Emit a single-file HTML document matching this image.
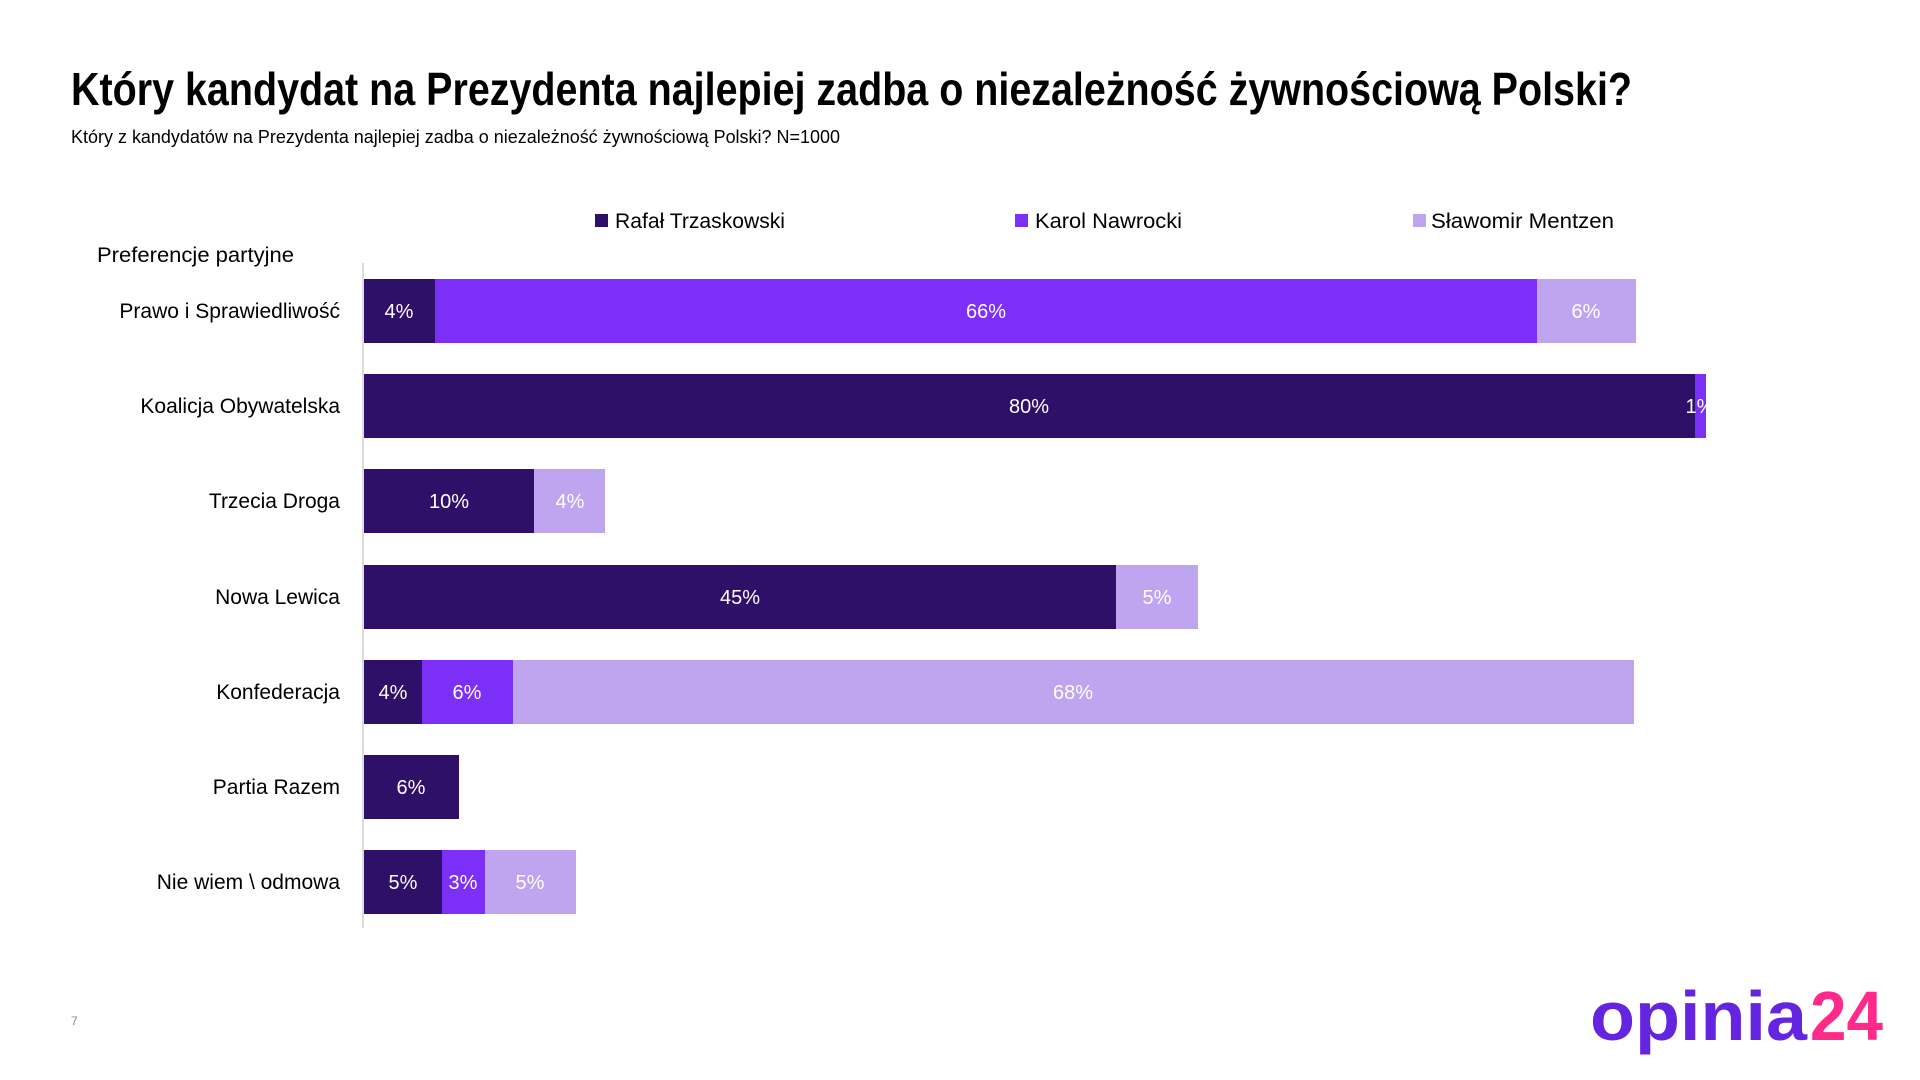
<!DOCTYPE html>
<html><head><meta charset="utf-8"><style>html,body{margin:0;padding:0;background:#fff}svg{display:block}</style></head>
<body>
<svg width="1920" height="1080" viewBox="0 0 1920 1080" xmlns="http://www.w3.org/2000/svg" font-family="'Liberation Sans', sans-serif">
<rect width="1920" height="1080" fill="#fff"/>
<text x="71" y="105" font-size="46" font-weight="bold" fill="#000" textLength="1561" lengthAdjust="spacingAndGlyphs">Który kandydat na Prezydenta najlepiej zadba o niezależność żywnościową Polski?</text>
<text x="71" y="143" font-size="18" fill="#000" textLength="769" lengthAdjust="spacingAndGlyphs">Który z kandydatów na Prezydenta najlepiej zadba o niezależność żywnościową Polski? N=1000</text>
<g font-size="21" fill="#000">
<rect x="595" y="214" width="13" height="13" fill="#2e1069"/>
<text x="615" y="228" textLength="170" lengthAdjust="spacingAndGlyphs">Rafał Trzaskowski</text>
<rect x="1015" y="214" width="13" height="13" fill="#7b2ff7"/>
<text x="1035" y="228" textLength="147" lengthAdjust="spacingAndGlyphs">Karol Nawrocki</text>
<rect x="1413" y="214" width="13" height="13" fill="#bfa5f0"/>
<text x="1431" y="228" textLength="183" lengthAdjust="spacingAndGlyphs">Sławomir Mentzen</text>
<text x="97" y="262" textLength="197" lengthAdjust="spacingAndGlyphs">Preferencje partyjne</text>
</g>
<line x1="363" y1="263" x2="363" y2="928" stroke="#d0d0d0" stroke-width="1.5"/>
<g font-size="21" fill="#000" text-anchor="end">
<text x="340" y="318">Prawo i Sprawiedliwość</text>
<text x="340" y="413">Koalicja Obywatelska</text>
<text x="340" y="508">Trzecia Droga</text>
<text x="340" y="604">Nowa Lewica</text>
<text x="340" y="699">Konfederacja</text>
<text x="340" y="794">Partia Razem</text>
<text x="340" y="889">Nie wiem \ odmowa</text>
</g>
<g>
<rect x="364" y="279" width="71" height="64" fill="#2e1069"/>
<rect x="435" y="279" width="1102" height="64" fill="#7b2ff7"/>
<rect x="1537" y="279" width="99" height="64" fill="#bfa5f0"/>
<rect x="364" y="374" width="1331" height="64" fill="#2e1069"/>
<rect x="1695" y="374" width="11" height="64" fill="#7b2ff7"/>
<rect x="364" y="469" width="170" height="64" fill="#2e1069"/>
<rect x="534" y="469" width="71" height="64" fill="#bfa5f0"/>
<rect x="364" y="565" width="752" height="64" fill="#2e1069"/>
<rect x="1116" y="565" width="82" height="64" fill="#bfa5f0"/>
<rect x="364" y="660" width="58" height="64" fill="#2e1069"/>
<rect x="422" y="660" width="91" height="64" fill="#7b2ff7"/>
<rect x="513" y="660" width="1121" height="64" fill="#bfa5f0"/>
<rect x="364" y="755" width="95" height="64" fill="#2e1069"/>
<rect x="364" y="850" width="78" height="64" fill="#2e1069"/>
<rect x="442" y="850" width="43" height="64" fill="#7b2ff7"/>
<rect x="485" y="850" width="91" height="64" fill="#bfa5f0"/>
</g>
<g font-size="20" fill="#fff" text-anchor="middle">
<text x="399" y="318">4%</text><text x="986" y="318">66%</text><text x="1586" y="318">6%</text>
<text x="1029" y="413">80%</text><text x="1700" y="413">1%</text>
<text x="449" y="508">10%</text><text x="570" y="508">4%</text>
<text x="740" y="604">45%</text><text x="1157" y="604">5%</text>
<text x="393" y="699">4%</text><text x="467" y="699">6%</text><text x="1073" y="699">68%</text>
<text x="411" y="794">6%</text>
<text x="403" y="889">5%</text><text x="463" y="889">3%</text><text x="530" y="889">5%</text>
</g>
<text x="71" y="1025" font-size="12" fill="#888">7</text>
<text x="1590" y="1040" font-size="70" font-weight="bold" fill="#6424e0" textLength="217" lengthAdjust="spacingAndGlyphs">opinia</text>
<text x="1810" y="1040" font-size="70" font-weight="bold" fill="#ff2a8a" textLength="73" lengthAdjust="spacingAndGlyphs">24</text>
</svg>
</body></html>
